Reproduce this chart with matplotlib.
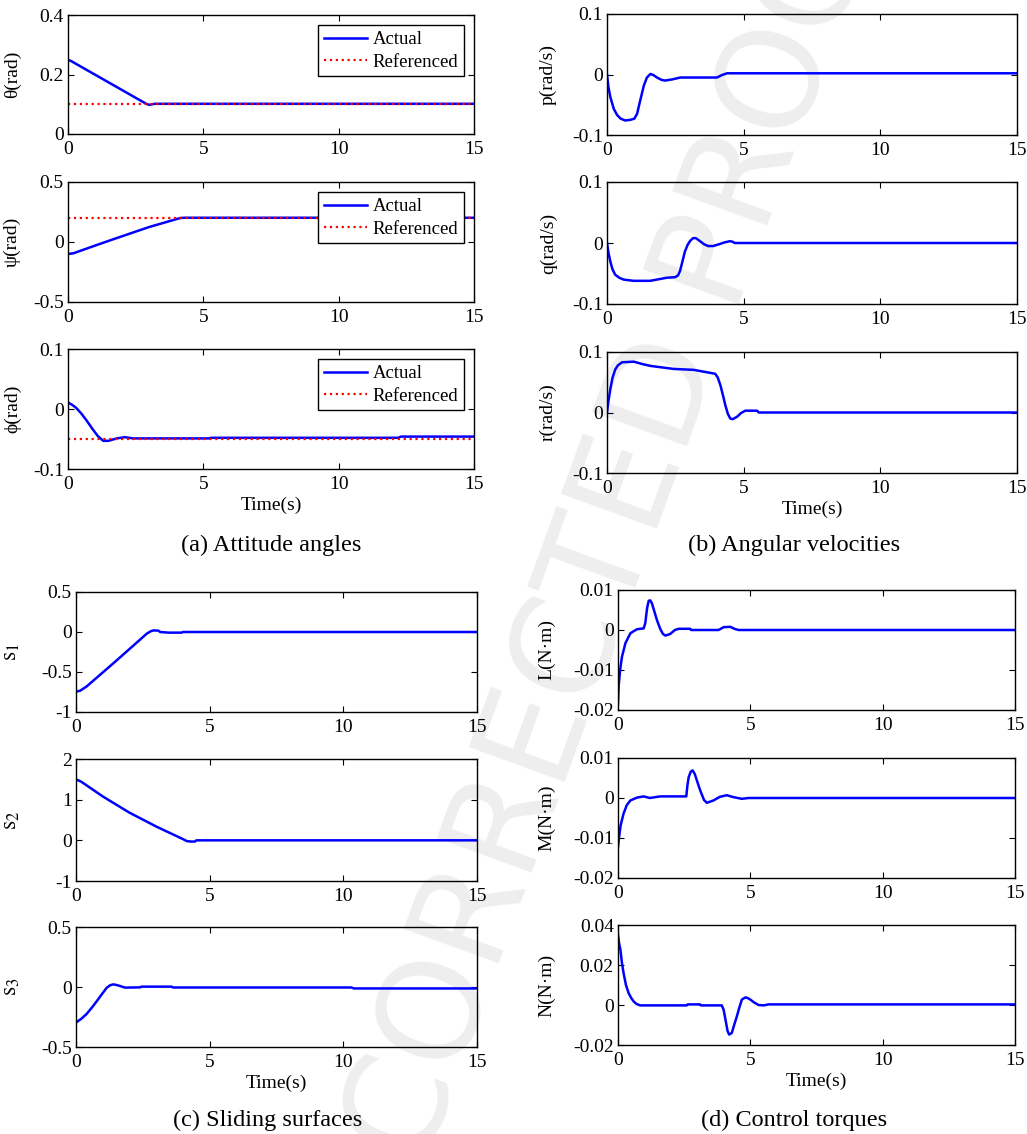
import matplotlib
matplotlib.use('Agg')
import matplotlib.pyplot as plt
from matplotlib.ticker import FuncFormatter

plt.rcParams['font.family'] = ['Liberation Serif', 'DejaVu Serif']
plt.rcParams['mathtext.fontset'] = 'stix'
plt.rcParams['axes.unicode_minus'] = False

W, H = 1027, 1134

# ---- data ----
# (a) attitude angles
theta_t = [0, 0.1, 2.9, 3.0, 3.2, 15]
theta_v = [0.249, 0.246, 0.101, 0.098, 0.1015, 0.1015]
theta_ref = 0.1

psi_t = [0, 0.2, 1.0, 1.7, 3.0, 4.15, 4.3, 15]
psi_v = [-0.1, -0.094, -0.03, 0.025, 0.125, 0.2, 0.202, 0.202]
psi_ref = 0.2

phi_t = [0, 0.15, 0.3, 0.5, 0.7, 0.9, 1.1, 1.3, 1.5, 1.65, 1.8, 2.1, 2.4, 5.2, 5.3,
         12.2, 12.3, 15]
phi_v = [0.011, 0.007, 0.002, -0.008, -0.02, -0.033, -0.045, -0.053, -0.053, -0.051,
         -0.049, -0.047, -0.049, -0.049, -0.048, -0.048, -0.046, -0.046]
phi_ref = -0.05

# (b) angular velocities
p_t = [0, 0.05, 0.12, 0.25, 0.37, 0.5, 0.67, 0.85, 1.0, 1.1, 1.22, 1.35, 1.46, 1.59,
       1.7, 1.83, 2.0, 2.13, 2.4, 2.68, 4.02, 4.2, 4.39, 15]
p_v = [0, -0.02, -0.037, -0.057, -0.067, -0.073, -0.076, -0.075, -0.073, -0.065,
       -0.042, -0.018, -0.005, 0.001, -0.001, -0.005, -0.009, -0.010, -0.008, -0.005,
       -0.005, -0.001, 0.002, 0.002]

q_t = [0, 0.05, 0.12, 0.2, 0.3, 0.45, 0.61, 0.97, 1.58, 2.18, 2.5, 2.6, 2.67, 2.75,
       2.85, 2.95, 3.05, 3.15, 3.25, 3.4, 3.55, 3.7, 3.88, 4.1, 4.3, 4.5, 4.6, 4.67, 15]
q_v = [0, -0.015, -0.030, -0.043, -0.052, -0.057, -0.060, -0.062, -0.062, -0.057,
       -0.056, -0.053, -0.046, -0.032, -0.014, -0.003, 0.004, 0.008, 0.008, 0.003,
       -0.002, -0.005, -0.005, -0.002, 0.001, 0.003, 0.002, 0.0, 0.0]

r_t = [0, 0.04, 0.12, 0.2, 0.3, 0.4, 0.55, 0.98, 1.3, 1.59, 2.44, 3.17, 3.96, 4.05,
       4.15, 4.25, 4.33, 4.42, 4.51, 4.6, 4.76, 4.9, 5.06, 5.49, 5.55, 15]
r_v = [0, 0.015, 0.038, 0.057, 0.071, 0.078, 0.083, 0.084, 0.080, 0.077, 0.072,
       0.0705, 0.064, 0.058, 0.045, 0.027, 0.012, -0.002, -0.010, -0.011, -0.007,
       -0.001, 0.003, 0.003, 0.0, 0.0]

# (c) sliding surfaces
s1_t = [0, 0.15, 0.4, 1.52, 2.65, 2.8, 2.9, 3.08, 3.15, 3.46, 3.96, 4.0, 15]
s1_v = [-0.745, -0.735, -0.68, -0.355, -0.02, 0.01, 0.02, 0.017, 0.0, -0.008,
        -0.008, 0.0, 0.0]

s2_t = [0, 0.2, 1.0, 2.0, 3.0, 4.0, 4.15, 4.3, 4.45, 4.5, 15]
s2_v = [1.5, 1.44, 1.08, 0.68, 0.34, 0.03, -0.02, -0.03, -0.03, 0.0, 0.0]

s3_t = [0, 0.2, 0.4, 0.6, 0.77, 1.0, 1.15, 1.28, 1.4, 1.55, 1.65, 1.83, 2.4, 2.45,
        3.58, 3.62, 10.3, 10.4, 15]
s3_v = [-0.296, -0.265, -0.224, -0.17, -0.12, -0.05, -0.006, 0.015, 0.022, 0.015,
        0.008, -0.005, -0.003, 0.003, 0.003, -0.004, -0.004, -0.012, -0.012]

# (d) control torques
L_t = [0, 0.025, 0.08, 0.15, 0.28, 0.47, 0.72, 0.97, 1.03, 1.1, 1.16, 1.22, 1.28,
       1.38, 1.47, 1.6, 1.7, 1.79, 1.97, 2.15, 2.29, 2.73, 2.76, 3.8, 3.99, 4.24,
       4.4, 4.55, 15]
L_v = [-0.0183, -0.014, -0.010, -0.0067, -0.0033, -0.0008, 0.0002, 0.0004, 0.0017,
       0.0055, 0.0073, 0.0074, 0.0067, 0.0045, 0.0025, 0.0002, -0.001, -0.0014,
       -0.001, 0.0, 0.0003, 0.0003, 0.0, 0.0, 0.0007, 0.0008, 0.0003, 0.0, 0.0]

M_t = [0, 0.04, 0.1, 0.21, 0.33, 0.47, 0.72, 0.97, 1.2, 1.6, 2.58, 2.62, 2.67, 2.75,
       2.82, 2.9, 2.98, 3.1, 3.25, 3.36, 3.61, 3.85, 4.11, 4.37, 4.68, 4.93, 15]
M_v = [-0.0122, -0.0098, -0.0068, -0.0039, -0.0018, -0.0006, 0.0001, 0.0004, 0.0,
       0.0004, 0.0004, 0.003, 0.0052, 0.0066, 0.0069, 0.006, 0.0044, 0.002, -0.0005,
       -0.0012, -0.0006, 0.0003, 0.0007, 0.0002, -0.0002, 0.0, 0.0]

N_t = [0, 0.04, 0.09, 0.15, 0.21, 0.3, 0.4, 0.5, 0.59, 0.7, 0.84, 2.6, 2.63, 3.1,
       3.13, 3.92, 3.99, 4.07, 4.14, 4.2, 4.3, 4.4, 4.49, 4.58, 4.68, 4.81, 4.9, 5.0,
       5.15, 5.31, 5.5, 5.69, 15]
N_v = [0.0352, 0.031, 0.0277, 0.021, 0.016, 0.010, 0.006, 0.0035, 0.0018, 0.0005,
       -0.0002, -0.0002, 0.0003, 0.0003, -0.0002, -0.0002, -0.0023, -0.008, -0.013,
       -0.0148, -0.014, -0.0095, -0.0057, -0.0015, 0.0027, 0.0038, 0.0035, 0.0027,
       0.0012, 0.0, -0.0002, 0.0003, 0.0003]

# y-axis settings per panel
theta_ticks = [0, 0.2, 0.4]
psi_ticks = [-0.5, 0, 0.5]
phi_ticks = [-0.1, 0, 0.1]
rate_ticks = [-0.1, 0, 0.1]
s1_ticks = [-1, -0.5, 0, 0.5]
s2_ticks = [-1, 0, 1, 2]
s3_ticks = [-0.5, 0, 0.5]
LM_ticks = [-0.02, -0.01, 0, 0.01]
N_ticks = [-0.02, 0, 0.02, 0.04]
x_ticks = [0, 5, 10, 15]

FS = 14

fig = plt.figure(figsize=(W / 100, H / 100), dpi=100)

# faint watermark behind everything
fig.text(0.575, 0.47, 'UNCORRECTED PROOF', rotation=70, fontsize=100,
         color='#eeeeee', ha='center', va='center', family='DejaVu Sans',
         zorder=-10)

fmt = FuncFormatter(lambda v, pos: '%g' % round(v, 6))


def panel(left, right, top, bottom, ticks, ylabel, label_x, ylabel_fs=FS):
    ax = fig.add_axes([left / W, 1 - bottom / H, (right - left) / W, (bottom - top) / H])
    ax.set_facecolor('none')
    ax.set_xlim(0, 15)
    ax.set_ylim(ticks[0], ticks[-1])
    ax.set_xticks(x_ticks)
    ax.set_yticks(ticks)
    ax.yaxis.set_major_formatter(fmt)
    ax.xaxis.set_major_formatter(fmt)
    ax.tick_params(direction='in', length=4, width=0.8, top=True, right=True,
                   labelsize=FS)
    ax.tick_params(axis='x', pad=5)
    ax.tick_params(axis='y', pad=3)
    for s in ax.spines.values():
        s.set_linewidth(1.0)
    ax.set_ylabel(ylabel, fontsize=ylabel_fs)
    ax.yaxis.set_label_coords(label_x / W, 1 - (top + bottom) / 2 / H,
                              transform=fig.transFigure)
    return ax


def with_legend(ax):
    leg = ax.legend(['Actual', 'Referenced'], loc='upper right', fontsize=13.5,
                    fancybox=False, framealpha=1, edgecolor='black',
                    handlelength=2.3, borderaxespad=0.55, labelspacing=0.3,
                    borderpad=0.3, handletextpad=0.3)
    leg.get_frame().set_linewidth(1.0)


blue = dict(color='#0000ff', lw=1.8)
red = dict(color='#ff0000', lw=1.6, ls=':')

# (a)
ax = panel(68, 474, 15, 134, theta_ticks, 'θ(rad)', 21)
ax.plot(theta_t, theta_v, **blue)
ax.plot([0, 15], [theta_ref, theta_ref], **red)
with_legend(ax)

ax = panel(68, 474, 182, 302, psi_ticks, 'ψ(rad)', 21)
ax.plot(psi_t, psi_v, **blue)
ax.plot([0, 15], [psi_ref, psi_ref], **red)
with_legend(ax)

ax = panel(68, 474, 349, 469, phi_ticks, 'ϕ(rad)', 21)
ax.plot(phi_t, phi_v, **blue)
ax.plot([0, 15], [phi_ref, phi_ref], **red)
with_legend(ax)
ax.set_xlabel('Time(s)', fontsize=FS, labelpad=3)

# (b)
ax = panel(607, 1017, 14, 135, rate_ticks, 'p(rad/s)', 557)
ax.plot(p_t, p_v, **blue)
ax = panel(607, 1017, 182, 304, rate_ticks, 'q(rad/s)', 557)
ax.plot(q_t, q_v, **blue)
ax = panel(607, 1017, 352, 473, rate_ticks, 'r(rad/s)', 557)
ax.plot(r_t, r_v, **blue)
ax.set_xlabel('Time(s)', fontsize=FS, labelpad=3)

# (c)
ax = panel(76, 477, 592, 712, s1_ticks, r'$\mathrm{s}_1$', 22, 17)
ax.plot(s1_t, s1_v, **blue)
ax = panel(76, 477, 759, 881, s2_ticks, r'$\mathrm{s}_2$', 22, 17)
ax.plot(s2_t, s2_v, **blue)
ax = panel(76, 477, 927, 1047, s3_ticks, r'$\mathrm{s}_3$', 22, 17)
ax.plot(s3_t, s3_v, **blue)
ax.set_xlabel('Time(s)', fontsize=FS, labelpad=3)

# (d)
ax = panel(618, 1015, 590, 710, LM_ticks, 'L(N·m)', 555)
ax.plot(L_t, L_v, **blue)
ax = panel(618, 1015, 758, 878, LM_ticks, 'M(N·m)', 555)
ax.plot(M_t, M_v, **blue)
ax = panel(618, 1015, 925, 1045, N_ticks, 'N(N·m)', 555)
ax.plot(N_t, N_v, **blue)
ax.set_xlabel('Time(s)', fontsize=FS, labelpad=3)

# captions
cap = dict(fontsize=17.5, ha='center', va='center')
fig.text(271 / W, 1 - 545 / H, '(a) Attitude angles', **cap)
fig.text(794 / W, 1 - 545 / H, '(b) Angular velocities', **cap)
fig.text(268 / W, 1 - 1120 / H, '(c) Sliding surfaces', **cap)
fig.text(794 / W, 1 - 1120 / H, '(d) Control torques', **cap)

fig.savefig('out.png', dpi=100)
